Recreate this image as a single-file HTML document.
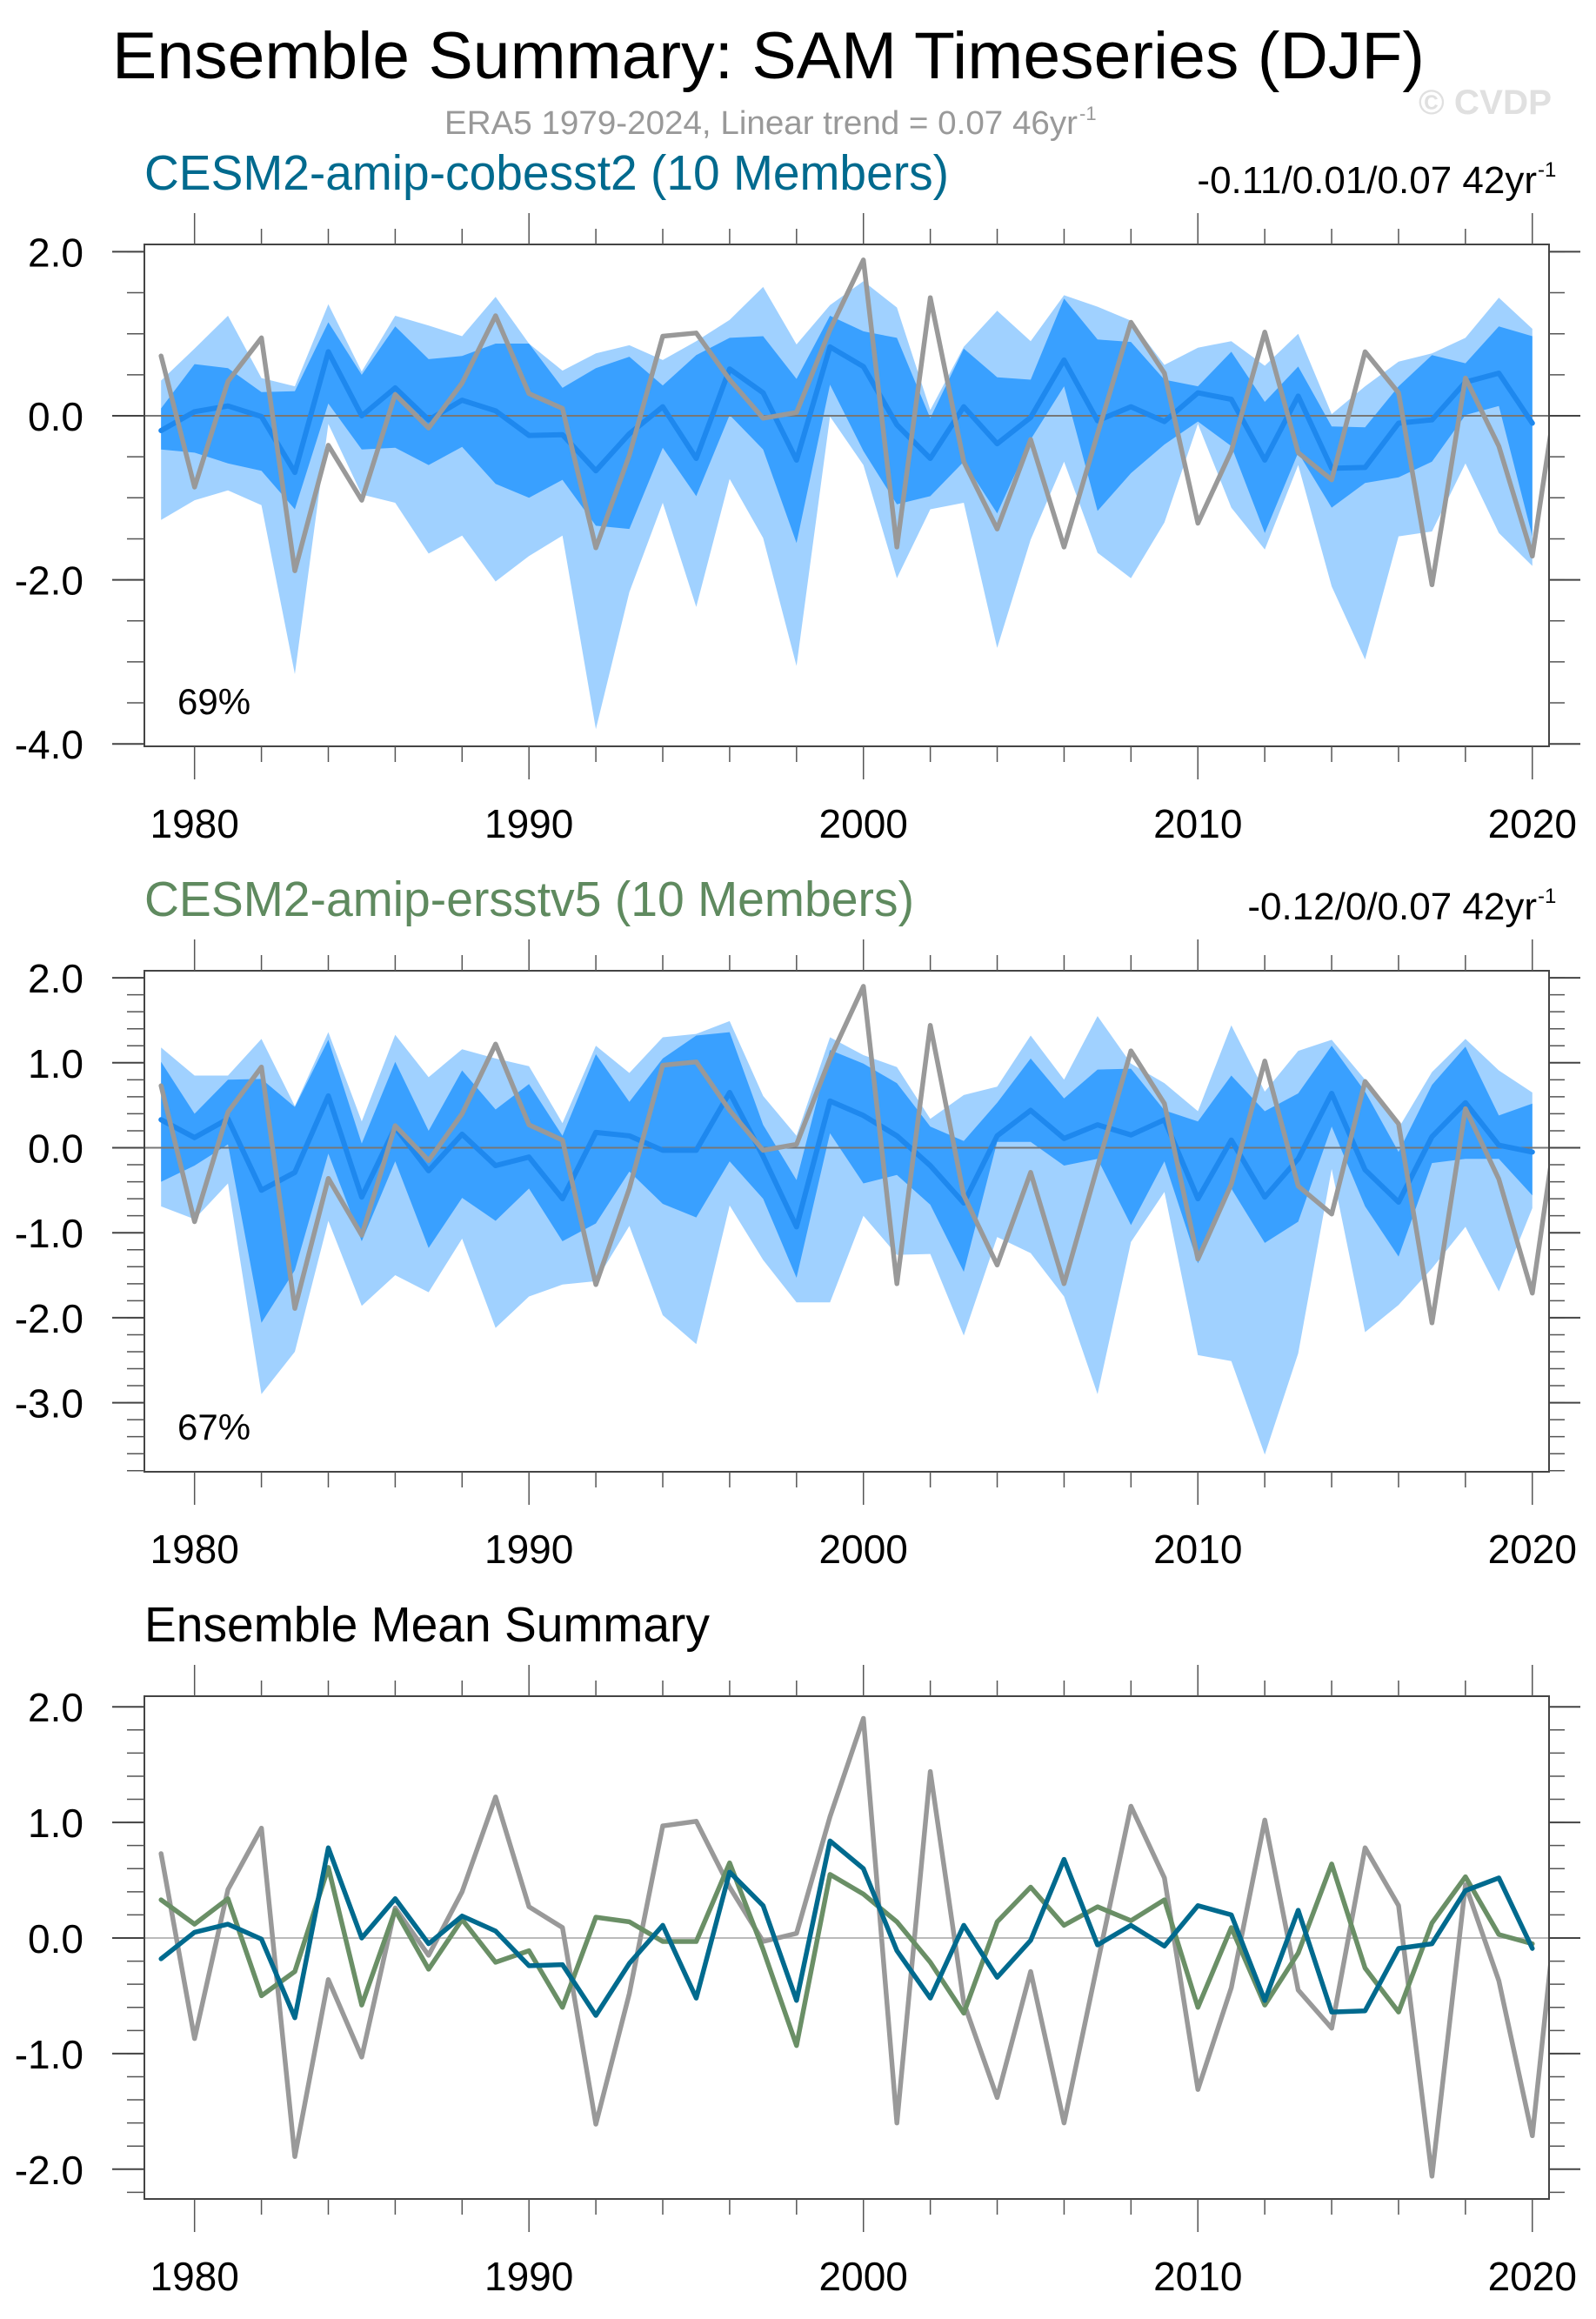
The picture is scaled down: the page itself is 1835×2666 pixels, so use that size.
<!DOCTYPE html>
<html><head><meta charset="utf-8"><style>
html,body{margin:0;padding:0;background:#fff;}
svg{display:block;font-family:"Liberation Sans",Arial,sans-serif;}
</style></head><body>
<svg id="chart" xmlns="http://www.w3.org/2000/svg" width="1835" height="2666" viewBox="0 0 1835 2666">
<rect x="0" y="0" width="1835" height="2666" fill="#fff"/>
<text x="129" y="90" font-size="76" fill="#000" textLength="1509" lengthAdjust="spacingAndGlyphs">Ensemble Summary: SAM Timeseries (DJF)</text>
<text x="511" y="154" font-size="38" fill="#999" textLength="728" lengthAdjust="spacingAndGlyphs">ERA5 1979-2024, Linear trend = 0.07 46yr</text>
<text x="1241" y="138" font-size="22" fill="#999">-1</text>
<text x="1631" y="131" font-size="40" font-weight="bold" fill="#e0e0e0" textLength="153" lengthAdjust="spacingAndGlyphs">© CVDP</text>
<g id="plots"></g>
</svg>
<script>
const years = [];
for (let y = 1979; y <= 2020; y++) years.push(y);
const era5Years = [];
for (let y = 1979; y <= 2021; y++) era5Years.push(y);

const era5 = [0.73,-0.87,0.42,0.95,-1.89,-0.36,-1.03,0.26,-0.15,0.40,1.22,0.27,0.09,-1.61,-0.48,0.97,1.01,0.44,-0.03,0.04,1.05,1.9,-1.6,1.44,-0.56,-1.38,-0.29,-1.6,-0.22,1.14,0.52,-1.31,-0.43,1.02,-0.45,-0.78,0.78,0.28,-2.06,0.46,-0.37,-1.71,1.01];

const meanCobe = [-0.18,0.05,0.12,-0.01,-0.69,0.78,0.0,0.34,-0.05,0.19,0.06,-0.24,-0.23,-0.67,-0.22,0.11,-0.52,0.57,0.28,-0.54,0.84,0.60,-0.11,-0.52,0.11,-0.34,-0.02,0.68,-0.06,0.11,-0.07,0.28,0.20,-0.54,0.24,-0.64,-0.63,-0.09,-0.05,0.41,0.52,-0.09];
const meanErsst = [0.33,0.12,0.34,-0.50,-0.29,0.61,-0.58,0.24,-0.27,0.16,-0.21,-0.11,-0.60,0.18,0.14,-0.03,-0.03,0.65,-0.10,-0.93,0.55,0.38,0.14,-0.21,-0.65,0.14,0.44,0.11,0.27,0.15,0.33,-0.60,0.09,-0.58,-0.13,0.64,-0.26,-0.64,0.13,0.53,0.03,-0.05];

const cobeLightHi = [0.43,0.82,1.22,0.46,0.36,1.36,0.54,1.22,1.10,0.97,1.45,0.88,0.55,0.76,0.86,0.68,0.91,1.17,1.57,0.87,1.35,1.64,1.32,0.07,0.84,1.28,0.91,1.47,1.33,1.16,0.62,0.83,0.91,0.61,1.0,0.02,0.36,0.66,0.76,0.95,1.44,1.06];
const cobeDarkHi = [0.09,0.63,0.58,0.29,0.30,1.14,0.50,1.09,0.69,0.73,0.88,0.88,0.34,0.58,0.72,0.37,0.74,0.95,0.97,0.45,1.22,1.03,0.95,-0.03,0.82,0.47,0.44,1.43,0.93,0.90,0.44,0.36,0.78,0.17,0.60,-0.13,-0.14,0.36,0.74,0.64,1.09,0.97];
const cobeDarkLo = [-0.41,-0.45,-0.58,-0.67,-1.14,0.15,-0.41,-0.39,-0.60,-0.38,-0.83,-1.00,-0.78,-1.34,-1.38,-0.39,-0.98,0.01,-0.41,-1.55,0.38,-0.43,-1.08,-0.98,-0.56,-1.19,-0.29,0.36,-1.16,-0.70,-0.35,-0.07,-0.37,-1.43,-0.45,-1.12,-0.82,-0.75,-0.56,0.01,0.12,-1.47];
const cobeLightLo = [-1.27,-1.03,-0.91,-1.09,-3.15,-0.10,-0.96,-1.06,-1.68,-1.46,-2.02,-1.71,-1.46,-3.82,-2.15,-1.06,-2.33,-0.77,-1.49,-3.05,-0.01,-0.6,-1.98,-1.14,-1.06,-2.83,-1.51,-0.56,-1.67,-1.98,-1.30,-0.1,-1.12,-1.63,-0.60,-2.08,-2.97,-1.47,-1.41,-0.58,-1.43,-1.83];

const ersstLightHi = [1.18,0.85,0.85,1.28,0.49,1.36,0.31,1.33,0.83,1.16,1.05,0.96,0.29,1.20,0.88,1.30,1.34,1.49,0.61,0.14,1.30,1.09,0.95,0.34,0.62,0.72,1.32,0.80,1.55,0.99,0.76,0.43,1.44,0.66,1.14,1.27,0.80,0.23,0.89,1.28,0.91,0.65];
const ersstDarkHi = [1.01,0.40,0.80,0.81,0.48,1.27,0.05,1.01,0.20,0.91,0.45,0.75,0.14,1.10,0.54,1.05,1.32,1.36,0.27,-0.38,1.15,0.99,0.76,0.25,0.08,0.53,1.05,0.58,0.92,0.93,0.44,0.31,0.85,0.43,0.64,1.20,0.66,-0.05,0.74,1.19,0.38,0.52];
const ersstDarkLo = [-0.40,-0.21,0.04,-2.06,-1.44,-0.07,-1.10,-0.16,-1.18,-0.59,-0.86,-0.48,-1.10,-0.89,-0.28,-0.66,-0.82,-0.16,-0.60,-1.53,0.17,-0.42,-0.32,-0.67,-1.46,0.07,0.07,-0.21,-0.13,-0.91,-0.16,-1.36,-0.48,-1.12,-0.87,0.25,-0.69,-1.28,-0.18,-0.13,-0.13,-0.56];
const ersstLightLo = [-0.69,-0.84,-0.42,-2.90,-2.40,-0.86,-1.86,-1.50,-1.70,-1.07,-2.12,-1.75,-1.61,-1.57,-0.92,-1.97,-2.31,-0.68,-1.32,-1.82,-1.82,-0.80,-1.26,-1.25,-2.21,-1.05,-1.24,-1.75,-2.90,-1.11,-0.52,-2.44,-2.51,-3.61,-2.42,-0.25,-2.17,-1.85,-1.42,-0.93,-1.69,-0.71];

const xTickYears = [1980,1982,1984,1986,1988,1990,1992,1994,1996,1998,2000,2002,2004,2006,2008,2010,2012,2014,2016,2018,2020];
const xLabelYears = [1980,1990,2000,2010,2020];
const p1YLabels = ["2.0","0.0","-2.0","-4.0"];
const p1YMajor = [2,0,-2,-4];
const p2YLabels = ["2.0","1.0","0.0","-1.0","-2.0","-3.0"];
const p2YMajor = [2,1,0,-1,-2,-3];
const p3YLabels = ["2.0","1.0","0.0","-1.0","-2.0"];
const p3YMajor = [2,1,0,-1,-2];

const NS = "http://www.w3.org/2000/svg";
const root = document.getElementById("plots");
const L = 166, R = 1781, X0 = 1978.5, X1 = 2020.5;
function xs(yr){ return L + (yr - X0) / (X1 - X0) * (R - L); }

function mk(tag, attrs, parent){
  const e = document.createElementNS(NS, tag);
  for (const k in attrs) e.setAttribute(k, attrs[k]);
  (parent || root).appendChild(e);
  return e;
}

function makePanel(cfg){
  const g = mk("g", {});
  
  
  const T = cfg.top, B = cfg.bottom;
  const ys = v => cfg.zeroY - v * cfg.unit;
  const clipId = cfg.name + "-clip";
  const cp = mk("clipPath", {id: clipId}, g);
  mk("rect", {x: L, y: T, width: R - L, height: B - T}, cp);
  const inner = mk("g", {"clip-path": "url(#" + clipId + ")"}, g);

  function band(hi, lo, color, nm){
    let d = "";
    for (let i = 0; i < years.length; i++) d += (i ? "L" : "M") + xs(years[i]).toFixed(1) + "," + ys(hi[i]).toFixed(1);
    for (let i = years.length - 1; i >= 0; i--) d += "L" + xs(years[i]).toFixed(1) + "," + ys(lo[i]).toFixed(1);
    const p = mk("path", {d: d + "Z", fill: color}, inner);
    
    
  }
  function line(xv, vals, color, w, nm){
    let d = "";
    for (let i = 0; i < vals.length; i++) d += (i ? "L" : "M") + xs(xv[i]).toFixed(1) + "," + ys(vals[i]).toFixed(1);
    const p = mk("path", {d: d, fill: "none", stroke: color, "stroke-width": w, "stroke-linejoin": "round", "stroke-linecap": "round"}, inner);
    
    
  }
  if (cfg.bands){
    band(cfg.bands.lightHi, cfg.bands.lightLo, "#a0d1ff", "outer-spread-band");
    band(cfg.bands.darkHi, cfg.bands.darkLo, "#39a0ff", "inner-spread-band");
  }
  const zl = mk("line", {x1: L, x2: R, y1: ys(0), y2: ys(0), stroke: cfg.bands ? "#777" : "#bbb", "stroke-width": 2}, inner);
  
  
  cfg.lines.forEach(s => line(s.x, s.v, s.color, s.w, s.name));

  const fr = mk("rect", {x: L, y: T, width: R - L, height: B - T, fill: "none", stroke: "#444", "stroke-width": 2}, g);
  
  

  // x ticks
  xTickYears.forEach(yr => {
    const dec = yr % 10 === 0;
    const x = xs(yr);
    mk("line", {x1: x, x2: x, y1: T - (dec ? 36 : 18), y2: T, stroke: "#555", "stroke-width": 1.5}, g);
    mk("line", {x1: x, x2: x, y1: B, y2: B + (dec ? 38 : 18), stroke: "#555", "stroke-width": 1.5}, g);
  });
  xLabelYears.forEach(yr => {
    const t = mk("text", {x: xs(yr), y: B + 105, "font-size": 46, "text-anchor": "middle", fill: "#000"}, g);
    t.textContent = String(yr);
    
    
  });
  // y minor ticks
  const vmax = (cfg.zeroY - T) / cfg.unit, vmin = (cfg.zeroY - B) / cfg.unit;
  for (let k = Math.ceil(vmin / cfg.minor - 1e-6); k * cfg.minor <= vmax + 1e-6; k++){
    const y = ys(k * cfg.minor);
    mk("line", {x1: 146, x2: L, y1: y, y2: y, stroke: "#555", "stroke-width": 1.5}, g);
    mk("line", {x1: R, x2: R + 18, y1: y, y2: y, stroke: "#555", "stroke-width": 1.5}, g);
  }
  cfg.yMajor.forEach((v, i) => {
    const y = ys(v);
    mk("line", {x1: 129, x2: L, y1: y, y2: y, stroke: "#444", "stroke-width": 2}, g);
    mk("line", {x1: R, x2: R + 36, y1: y, y2: y, stroke: "#444", "stroke-width": 2}, g);
    const t = mk("text", {x: 96, y: y + 17, "font-size": 46, "text-anchor": "end", fill: "#000"}, g);
    t.textContent = cfg.yLabels[i];
    
    
  });
  // titles
  const tt = mk("text", {x: 166, y: T - 63, "font-size": 57, fill: cfg.titleColor}, g);
  tt.textContent = cfg.title;
  if (cfg.titleLen) { tt.setAttribute("textLength", cfg.titleLen); tt.setAttribute("lengthAdjust", "spacingAndGlyphs"); }
  
  
  if (cfg.right){
    const rt = mk("text", {x: 1767, y: T - 59, "font-size": 44, "text-anchor": "end", fill: "#000"}, g);
    rt.textContent = cfg.right;
    
    
    const sp = mk("text", {x: 1768, y: T - 78, "font-size": 24, fill: "#000"}, g);
    sp.textContent = "-1";
    
    
  }
  if (cfg.pct){
    const pt = mk("text", {x: 204, y: B - 37, "font-size": 42, fill: "#000"}, g);
    pt.textContent = cfg.pct;
    
    
  }
}

makePanel({name: "cobesst2-panel", top: 281, bottom: 858, zeroY: 478, unit: 94.3, minor: 0.5,
  yMajor: p1YMajor, yLabels: p1YLabels, title: "CESM2-amip-cobesst2 (10 Members)", titleLen: 925, titleColor: "#006a8e",
  right: "-0.11/0.01/0.07 42yr", pct: "69%",
  bands: {lightHi: cobeLightHi, lightLo: cobeLightLo, darkHi: cobeDarkHi, darkLo: cobeDarkLo},
  lines: [{x: years, v: meanCobe, color: "#1e88ee", w: 6, name: "ensemble-mean-line"},
          {x: era5Years, v: era5, color: "#999999", w: 5.5, name: "era5-line"}]});

makePanel({name: "ersstv5-panel", top: 1116, bottom: 1692, zeroY: 1319.5, unit: 97.7, minor: 0.2,
  yMajor: p2YMajor, yLabels: p2YLabels, title: "CESM2-amip-ersstv5 (10 Members)", titleLen: 885, titleColor: "#5f8a5f",
  right: "-0.12/0/0.07 42yr", pct: "67%",
  bands: {lightHi: ersstLightHi, lightLo: ersstLightLo, darkHi: ersstDarkHi, darkLo: ersstDarkLo},
  lines: [{x: years, v: meanErsst, color: "#1e88ee", w: 6, name: "ensemble-mean-line"},
          {x: era5Years, v: era5, color: "#999999", w: 5.5, name: "era5-line"}]});

makePanel({name: "ensemble-mean-panel", top: 1950, bottom: 2528, zeroY: 2228, unit: 132.9, minor: 0.2,
  yMajor: p3YMajor, yLabels: p3YLabels, title: "Ensemble Mean Summary", titleLen: 650, titleColor: "#000",
  lines: [{x: era5Years, v: era5, color: "#999999", w: 5.5, name: "era5-line"},
          {x: years, v: meanErsst, color: "#6a8f66", w: 5.5, name: "ersstv5-mean-line"},
          {x: years, v: meanCobe, color: "#006a8e", w: 5.5, name: "cobesst2-mean-line"}]});
</script>
</body></html>
